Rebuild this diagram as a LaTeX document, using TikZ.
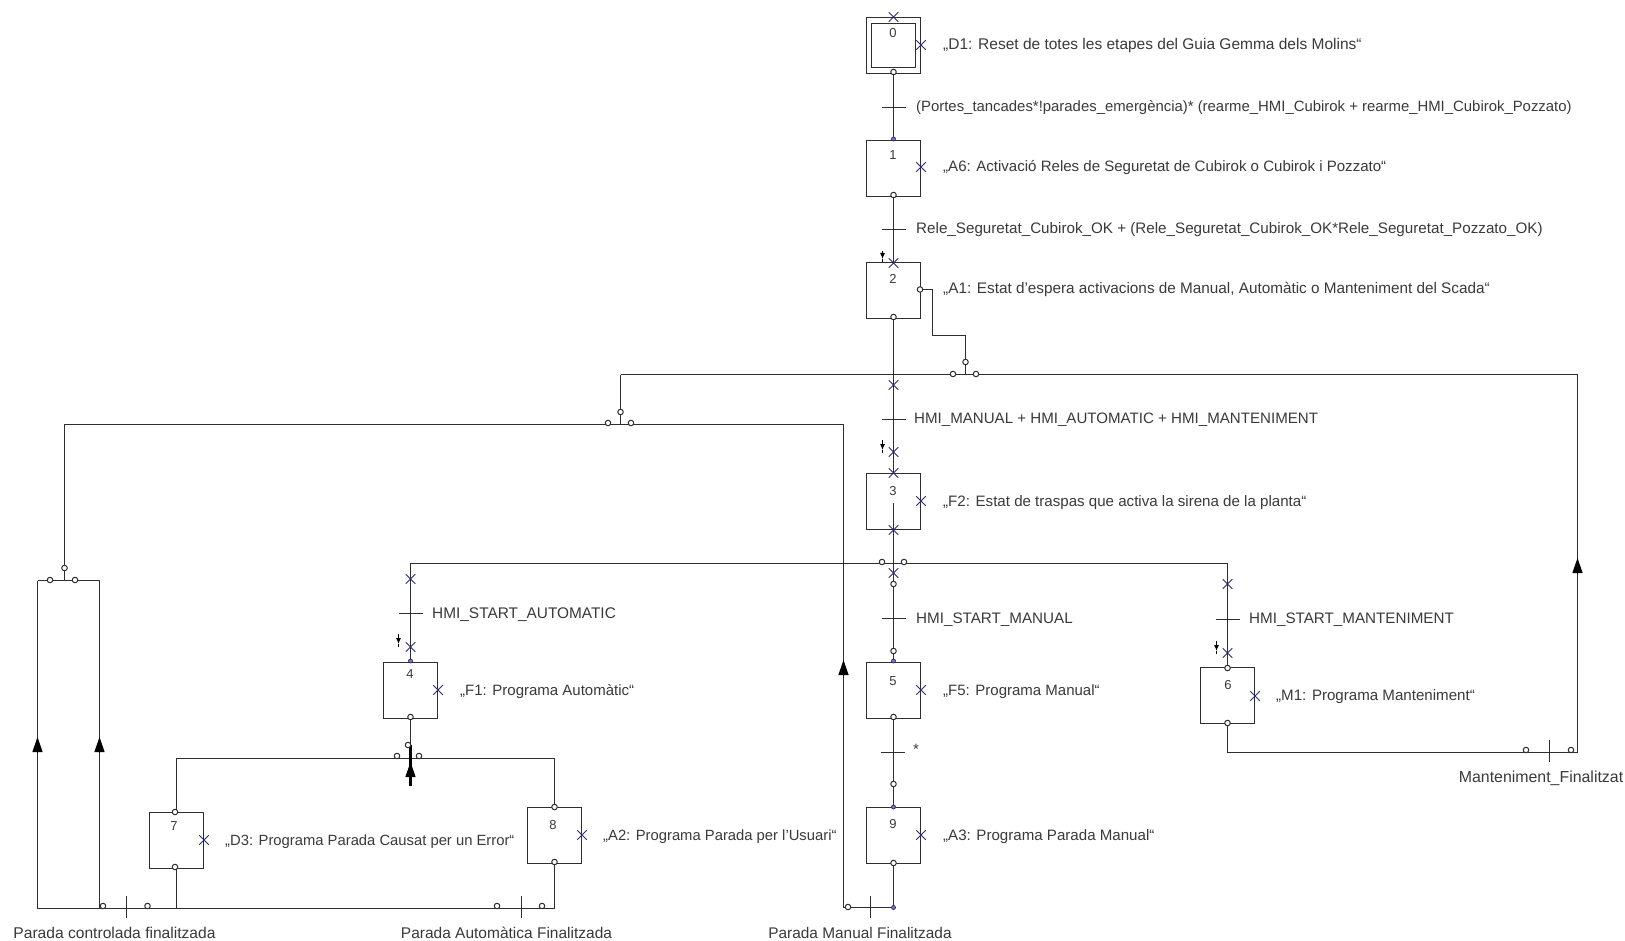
\documentclass[tikz,border=0pt]{standalone}
\usepackage{fontspec}
\setmainfont{Liberation Sans}
\usetikzlibrary{shapes.misc,arrows.meta,backgrounds}
\definecolor{wirec}{HTML}{2E2E2E}
\definecolor{txtc}{HTML}{3A3A3A}
\definecolor{crossc}{HTML}{2B2B78}
\newcommand{\htick}[3]{\coordinate (#1) at (#2,#3);\draw[wire] ([xshift=-12pt]#1) -- ([xshift=12pt]#1);}
\newcommand{\vtick}[3]{\coordinate (#1) at (#2,#3);\draw[wire] ([yshift=-11pt]#1) -- ([yshift=11pt]#1);}
\tikzset{
 x=1pt,y=-1pt,
 wire/.style={draw=wirec,line width=1.2pt},
 thickwire/.style={draw=black,line width=2.4pt},
 stepbox/.style={rectangle,draw=wirec,line width=1.2pt,minimum width=54pt,minimum height=56pt,inner sep=0pt},
 innerbox/.style={rectangle,draw=wirec,line width=1.2pt,minimum width=44pt,minimum height=44pt,inner sep=0pt},
 num/.style={font=\fontsize{13}{13}\selectfont,text=txtc,inner sep=0pt},
 lab/.style={font=\fontsize{#1}{17}\selectfont,text=txtc,anchor=west,inner sep=0pt,text height=12pt,text depth=2pt},
 lab/.default=15.1,
 clab/.style={lab=#1,anchor=center},
 xm/.style={cross out,draw=crossc,line width=0.9pt,minimum size=9.5pt,inner sep=0pt,outer sep=0pt},
 co/.style={circle,draw=wirec,fill=white,line width=1pt,minimum size=5.5pt,inner sep=0pt},
 dotc/.style={circle,draw=crossc,fill=crossc!60!white,line width=0.8pt,minimum size=4pt,inner sep=0pt},
 uparrow/.style={draw=black,line width=1.2pt,-{Triangle[width=10pt,length=15pt]}},
 downmini/.style={draw=black,line width=1pt,-{Latex[length=6pt,width=5pt]}},
}
\begin{document}
\begin{tikzpicture}
\useasboundingbox (0,0) rectangle (1625,941);
% steps
\node[stepbox] (s0) at (893.5,45.5) {};
\node[innerbox] (s0i) at (893.5,45.5) {};
\node[stepbox] (s1) at (893.5,168.5) {};
\node[stepbox] (s2) at (893.5,290.5) {};
\node[stepbox] (s3) at (893.5,501.5) {};
\node[stepbox] (s4) at (410.5,690.5) {};
\node[stepbox] (s5) at (893.5,690.5) {};
\node[stepbox] (s6) at (1227.5,695.5) {};
\node[stepbox] (s7) at (176.5,840.5) {};
\node[stepbox] (s8) at (554.5,835.5) {};
\node[stepbox] (s9) at (893.5,835.5) {};
% numbers
\node[num] (n0) at (893,33) {0};
\node[num] (n1) at (893,155) {1};
\node[num] (n2) at (893,279) {2};
\node[num] (n3) at (893,491) {3};
\node[num] (n4) at (410,674) {4};
\node[num] (n5) at (893,681) {5};
\node[num] (n6) at (1228,685) {6};
\node[num] (n7) at (174,826) {7};
\node[num] (n8) at (553,825) {8};
\node[num] (n9) at (893,824) {9};
% action labels
\node[lab=15.5] (a0) at (943,45) {„D1: Reset de totes les etapes del Guia Gemma dels Molins“};
\node[lab=15.05] (a1) at (943,167) {„A6: Activació Reles de Seguretat de Cubirok o Cubirok i Pozzato“};
\node[lab=15.3] (a2) at (943,289) {„A1: Estat d'espera activacions de Manual, Automàtic o Manteniment del Scada“};
\node[lab=15.1] (a3) at (943,501) {„F2: Estat de traspas que activa la sirena de la planta“};
\node[lab=15] (a4) at (460,690) {„F1: Programa Automàtic“};
\node[lab=15] (a5) at (943,690) {„F5: Programa Manual“};
\node[lab=15.1] (a6) at (1276,695) {„M1: Programa Manteniment“};
\node[lab=14.8] (a7) at (225,840) {„D3: Programa Parada Causat per un Error“};
\node[lab=14.8] (a8) at (603,835) {„A2: Programa Parada per l'Usuari“};
\node[lab=15.1] (a9) at (943,835) {„A3: Programa Parada Manual“};
% transition labels
\node[lab=14.9] (l01) at (916,107) {(Portes\_tancades*!parades\_emergència)* (rearme\_HMI\_Cubirok + rearme\_HMI\_Cubirok\_Pozzato)};
\node[lab=15.2] (l12) at (916,229) {Rele\_Seguretat\_Cubirok\_OK + (Rele\_Seguretat\_Cubirok\_OK*Rele\_Seguretat\_Pozzato\_OK)};
\node[lab=15.1] (l23) at (914,418) {HMI\_MANUAL + HMI\_AUTOMATIC + HMI\_MANTENIMENT};
\node[lab=15.4] (l4) at (432,613) {HMI\_START\_AUTOMATIC};
\node[lab=15.2] (l5) at (916,618) {HMI\_START\_MANUAL};
\node[lab=15.2] (l6) at (1249,618) {HMI\_START\_MANTENIMENT};
\node[lab=15] (l59) at (913,749) {*};
\node[clab=15.6] (f1) at (114.5,933) {Parada controlada finalitzada};
\node[clab=15.5] (f2) at (506.5,933) {Parada Automàtica Finalitzada};
\node[clab=15.4] (f3) at (860,933) {Parada Manual Finalitzada};
\node[clab=15.9] (f4) at (1541,777) {Manteniment\_Finalitzat};
% action crosses
\foreach \nm/\px/\py in {x0/921/45,x1/921/167,x3/921/501,x4/438/690,x5/921/690,x6/1255/696,x7/204/840,x8/582/835,x9/921/835}
  \node[xm] (\nm) at (\px,\py) {};
% line crosses
\foreach \nm/\px/\py in {k0/893.5/17,k2/893.5/263,k3a/893.5/385,k3b/893.5/452,k3c/893.5/473,k3d/893.5/530,k5/893.5/573,k4a/410.5/579,k4b/410.5/647,k6a/1227.5/584,k6b/1227.5/653}
  \node[xm] (\nm) at (\px,\py) {};
% open circles
\foreach \nm/\px/\py in {c0/893.5/72,c1/893.5/195,c2a/920/289.5,c2b/893.5/317,cm/965.5/362,cm1/953/374,cm2/976/374,
  cb/620.5/412,cb1/608/423,cb2/631/423,ca/64.5/568,ca1/50/580,ca2/75/580,
  c31/882/562,c32/904/562,c5a/893.5/584,c5b/893.5/651,c5c/893.5/717,c5d/893.5/784,
  c4a/410.5/717,c4b/408/745,c4c/397/756,c4d/419/756,c6a/1227.5/668,c6b/1227.5/723,
  c7a/175/867,c7b/175/812,c8a/554.5/807,c8b/554.5/862,c9a/893.5/863,d1/103/906,d2/147.5/906,d3/497/906,d4/542/906,d5/848/907,
  d6/1526/750,d7/1571/750}
  \node[co] (\nm) at (\px,\py) {};
% small dots
\foreach \nm/\px/\py in {e1/893.5/139,e4/410.5/661,e5/893.5/661,e9/893.5/807,e10/893.5/907.5}
  \node[dotc] (\nm) at (\px,\py) {};
% corner points
\coordinate (j3) at (893.5,503);
\coordinate (rb) at (893.5,907.5);
\coordinate (lb) at (843.5,907.5);
\coordinate (lt) at (843.5,424.5);
\coordinate (bb) at (620.5,424.5);
\coordinate (bt) at (620.5,374.5);
\coordinate (fr) at (64.5,424.5);
\coordinate (fr2) at (64.5,580.5);
\coordinate (fa) at (37.5,580.5);
\coordinate (fb) at (99.5,580.5);
\coordinate (ga) at (37.5,908.5);
\coordinate (gb) at (99.5,908.5);
\coordinate (g7) at (176.5,908.5);
\coordinate (g8) at (554.5,908.5);
\coordinate (h7) at (176.5,758.5);
\coordinate (h8) at (554.5,758.5);
\coordinate (h4) at (410.5,745);
\coordinate (h5) at (410.5,786);
\coordinate (b4) at (410.5,563.5);
\coordinate (b6) at (1227.5,563.5);
\coordinate (r6) at (1227.5,752.5);
\coordinate (r7) at (1577.5,752.5);
\coordinate (r8) at (1577.5,374.5);
\coordinate (m1) at (932.5,289.5);
\coordinate (m2) at (932.5,335.5);
\coordinate (m3) at (965.5,335.5);
\coordinate (m4) at (965.5,374.5);
\begin{scope}[on background layer]
\fill[white] (0,0) rectangle (1625,941);
\draw[wire] (s0.south) -- (s1.north);
\draw[wire] (s1.south) -- (s2.north);
\draw[wire] (s2.south) -- (s3.north);
\draw[wire] (j3) -- (s5.north);
\draw[wire] (s5.south) -- (s9.north);
\draw[wire] (s9.south) -- (rb) -- (lb) -- (lt) -- (fr) -- (fr2);
\draw[wire] (bt) -- (bb);
\draw[wire] (fa) -- (fb) -- (gb);
\draw[wire] (fa) -- (ga) -- (g8) -- (s8.south);
\draw[wire] (s7.south) -- (g7);
\draw[wire] (s7.north) -- (h7) -- (h8) -- (s8.north);
\draw[wire] (s4.south) -- (h4);
\draw[thickwire] (h4) -- (h5);
\draw[wire] (s4.north) -- (b4) -- (b6) -- (s6.north);
\draw[wire] (s6.south) -- (r6) -- (r7) -- (r8) -- (bt);
\draw[wire] (c2a) -- (m1) -- (m2) -- (m3) -- (m4);
\end{scope}
% transition ticks
\htick{t01}{893.5}{107.5}
\htick{t12}{893.5}{229.5}
\htick{t23}{893.5}{419.5}
\htick{t4}{410.5}{613.5}
\htick{t5}{893.5}{618.5}
\htick{t6}{1227.5}{619.5}
\htick{t59}{892.5}{752.5}
\vtick{t7}{126.5}{907}
\vtick{t8}{521.5}{907}
\vtick{t9}{870.5}{907}
\vtick{t10}{1549.5}{751}
% large arrows
\coordinate (ua1) at (37.5,753); \coordinate (ub1) at (37.5,737);
\coordinate (ua2) at (99.5,753); \coordinate (ub2) at (99.5,737);
\coordinate (ua3) at (843.5,675); \coordinate (ub3) at (843.5,660);
\coordinate (ua4) at (1577.5,573); \coordinate (ub4) at (1577.5,558);
\coordinate (ua5) at (410.5,776); \coordinate (ub5) at (410.5,762);
\foreach \k in {1,2,3,4,5} \draw[uparrow] (ua\k) -- (ub\k);
% small forcing arrows
\coordinate (da1) at (882.5,251); \coordinate (db1) at (882.5,259);
\coordinate (da2) at (882.5,440); \coordinate (db2) at (882.5,450);
\coordinate (da3) at (398.5,634); \coordinate (db3) at (398.5,644);
\coordinate (da4) at (1216.5,641); \coordinate (db4) at (1216.5,651);
\foreach \k in {1,2,3,4} {\draw[downmini] (da\k) -- (db\k); \draw[draw=black,line width=1pt] (db\k) -- ++(0,3);}
\end{tikzpicture}
\end{document}
